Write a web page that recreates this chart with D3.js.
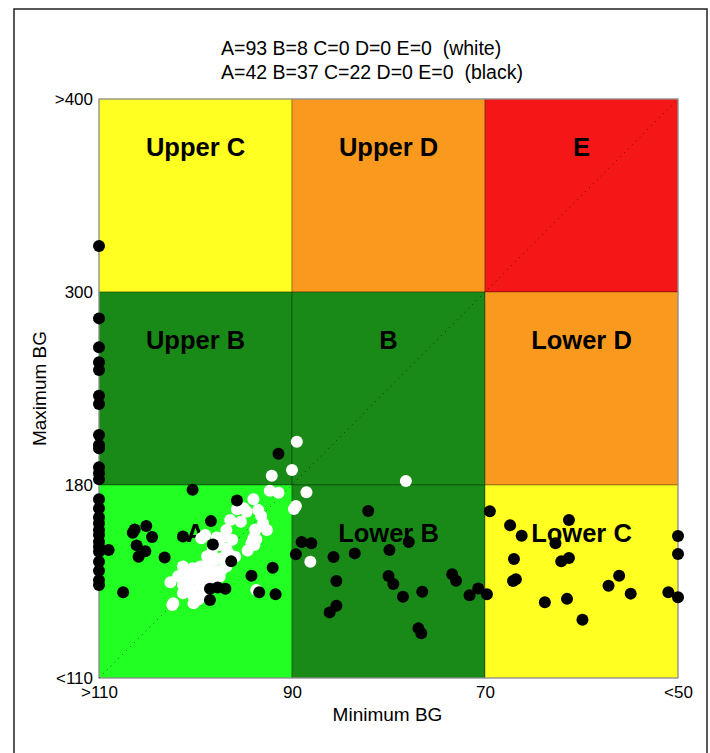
<!DOCTYPE html>
<html>
<head>
<meta charset="utf-8">
<script src="https://cdn.jsdelivr.net/npm/d3@7"></script>
<style>
  html, body { margin: 0; padding: 0; background: #fff; }
  svg { display: block; font-family: "Liberation Sans", Arial, Helvetica, sans-serif; }
</style>
</head>
<body>
<svg id="chart" width="710" height="753"></svg>
<script>
// ---- data ----
const titleLines = ["A=93 B=8 C=0 D=0 E=0  (white)", "A=42 B=37 C=22 D=0 E=0  (black)"];
const xTickValues = [110, 90, 70, 50];
const xTickLabels = [">110", "90", "70", "<50"];
const yTickValues = [110, 180, 300, 400];
const yTickLabels = ["<110", "180", "300", ">400"];
const xAxisTitle = "Minimum BG";
const yAxisTitle = "Maximum BG";

const zoneNames = ["Upper C", "Upper D", "E", "Upper B", "B", "Lower D", "A", "Lower B", "Lower C"];
const zoneColorKeys = ["C", "D", "E", "B", "B", "D", "A", "B", "C"];
const zoneCols = [0, 1, 2, 0, 1, 2, 0, 1, 2];
const zoneRows = [2, 2, 2, 1, 1, 1, 0, 0, 0];

// [minimum BG, maximum BG]
const whitePoints = [
  [89.5, 206.9], [90.0, 189.3], [92.1, 185.8], [78.2, 182.5], [92.3, 177.9], [91.4, 177.2],
  [88.5, 177.4], [89.6, 172.4], [89.8, 171.3], [94.0, 174.8], [95.7, 171.2], [95.0, 171.6],
  [94.7, 170.3], [93.2, 168.8], [95.3, 166.7], [96.4, 167.3], [93.8, 163.9], [92.6, 163.7],
  [94.0, 160.7], [94.6, 156.2], [94.2, 158.9], [96.8, 163.7], [97.0, 161.3], [97.8, 161.0],
  [99.0, 161.9], [99.4, 160.7], [97.5, 158.2], [96.8, 157.0], [98.3, 155.2], [95.9, 154.0],
  [97.3, 153.4], [98.0, 152.8], [96.8, 150.4], [97.3, 149.2], [97.8, 148.6], [98.7, 152.2],
  [99.5, 150.4], [100.3, 149.8], [101.3, 150.4], [98.5, 149.2], [99.2, 148.0], [100.1, 146.7],
  [100.9, 146.2], [101.3, 143.7], [102.6, 144.7], [100.2, 143.1], [99.4, 143.1], [98.3, 145.5],
  [97.5, 146.7], [101.3, 140.7], [100.3, 140.1], [99.2, 140.7], [102.3, 137.1], [100.2, 137.1],
  [93.7, 141.9], [88.1, 152.2], [93.0, 166.1], [93.7, 160.3], [93.9, 158.2], [102.4, 136.5],
  [93.8, 163.7], [98.8, 154.2], [98.2, 157.2], [96.6, 155.3], [98.8, 146.0], [98.1, 143.7],
  [99.8, 145.1], [100.8, 148.0], [101.8, 146.9], [100.7, 141.5], [99.7, 138.5], [96.2, 160.1],
  [93.5, 170.9]
];
const blackPoints = [
  [110, 323.8], [110, 283.6], [110, 265.6], [110, 256.3], [110, 251.5], [110, 235.5],
  [110, 230.4], [110, 211.1], [110, 204.9], [110, 202.8], [110, 191.0], [110, 187.3],
  [110, 183.5], [110, 174.8], [110, 171.6], [110, 168.3], [110, 166.1], [110, 163.7],
  [110, 161.9], [110, 159.4], [110, 157.6], [110, 155.8], [110, 152.2], [110, 148.9],
  [110, 145.5], [110, 143.7],
  [91.4, 199.5], [100.3, 178.3], [95.7, 174.4], [98.4, 166.9], [106.3, 163.9], [106.5, 162.7],
  [105.1, 165.1], [104.5, 161.1], [101.3, 161.3], [109.0, 156.4], [106.1, 158.1], [105.2, 156.0],
  [105.9, 154.0], [103.2, 153.7], [98.2, 158.4], [96.3, 152.3], [92.0, 150.0], [94.2, 147.1],
  [107.5, 141.1], [98.5, 142.4], [97.7, 142.8], [96.9, 142.4], [98.5, 138.3], [93.4, 141.1],
  [91.7, 140.4],
  [89.6, 154.9], [82.1, 170.6], [89.0, 159.3], [88.0, 158.9], [85.7, 153.9], [83.5, 155.2],
  [79.9, 156.4], [77.9, 159.3], [85.4, 145.2], [80.0, 147.0], [79.5, 144.1], [78.5, 139.5],
  [76.5, 141.3], [73.4, 147.6], [73.0, 145.3], [70.7, 142.5], [71.6, 140.0], [85.4, 136.2],
  [86.1, 133.8], [76.9, 128.0], [76.6, 126.2],
  [69.8, 140.4], [69.5, 170.5], [67.4, 165.4], [66.2, 161.6], [61.3, 167.3], [62.7, 158.9],
  [67.0, 153.2], [62.1, 152.3], [61.3, 153.5], [67.1, 145.2], [66.8, 145.8], [63.8, 137.5],
  [61.5, 138.7], [59.9, 131.1], [57.2, 143.5], [56.1, 147.1], [54.9, 140.6], [51.0, 141.1],
  [50, 139.3], [50, 161.5], [50, 155.0]
];

// ---- styles ----
const zoneColors = { A: "#22ff22", B: "#198a17", C: "#ffff22", D: "#f99a1e", E: "#f51717" };

// ---- layout ----
const svg = d3.select("#chart");
const pLeft = 99, pRight = 678, pTop = 99, pBottom = 678;

const x = d3.scaleLinear().domain([110, 50]).range([pLeft, pRight]).clamp(true);
const y = d3.scaleLinear().domain(yTickValues).range([pBottom, pBottom - 193, pBottom - 386, pTop]).clamp(true);

svg.append("rect").attr("x", 14).attr("y", 9).attr("width", 693).attr("height", 780)
  .attr("fill", "none").attr("stroke", "#222").attr("stroke-width", 1.5);

const zones = zoneNames.map((name, i) => ({
  name,
  color: zoneColors[zoneColorKeys[i]],
  x0: xTickValues[zoneCols[i]], x1: xTickValues[zoneCols[i] + 1],
  y0: yTickValues[zoneRows[i]], y1: yTickValues[zoneRows[i] + 1]
}));

const g = svg.append("g");
g.selectAll("rect.zone").data(zones).join("rect")
  .attr("class", "zone")
  .attr("x", d => x(d.x0))
  .attr("y", d => y(d.y1))
  .attr("width", d => x(d.x1) - x(d.x0))
  .attr("height", d => y(d.y0) - y(d.y1))
  .attr("fill", d => d.color)
  .attr("stroke", "rgba(0,0,0,0.3)")
  .attr("stroke-width", 1);

g.selectAll("text.zone").data(zones).join("text")
  .attr("class", "zone")
  .attr("x", d => (x(d.x0) + x(d.x1)) / 2)
  .attr("y", d => y(d.y1) + (y(d.y0) - y(d.y1)) / 4 + 9)
  .attr("text-anchor", "middle")
  .attr("font-size", 25.5)
  .attr("font-weight", "bold")
  .attr("fill", "#000")
  .text(d => d.name);

svg.append("rect").attr("x", pLeft).attr("y", pTop).attr("width", pRight - pLeft).attr("height", pBottom - pTop)
  .attr("fill", "none").attr("stroke", "#999").attr("stroke-width", 1.2);

svg.append("line")
  .attr("x1", x(110)).attr("y1", y(110)).attr("x2", x(50)).attr("y2", y(400))
  .attr("stroke", "#000").attr("stroke-opacity", 0.6).attr("stroke-width", 1)
  .attr("stroke-dasharray", "1,4.5");

svg.append("g").selectAll("circle").data(whitePoints).join("circle")
  .attr("cx", d => x(d[0])).attr("cy", d => y(d[1])).attr("r", 6)
  .attr("fill", "#fff");
svg.append("g").selectAll("circle").data(blackPoints).join("circle")
  .attr("cx", d => x(d[0])).attr("cy", d => y(d[1])).attr("r", 6)
  .attr("fill", "#000");

const xAxis = d3.axisBottom(x).tickValues(xTickValues).tickFormat((d, i) => xTickLabels[i]).tickSize(0).tickPadding(8);
const xg = svg.append("g").attr("transform", `translate(0,${pBottom})`).call(xAxis);
xg.select(".domain").remove();
xg.selectAll("text").attr("font-size", 17).attr("fill", "#000");
xg.attr("font-family", null);

const yAxis = d3.axisLeft(y).tickValues(yTickValues).tickFormat((d, i) => yTickLabels[i]).tickSize(0).tickPadding(6);
const yg = svg.append("g").attr("transform", `translate(${pLeft},0)`).call(yAxis);
yg.select(".domain").remove();
yg.selectAll("text").attr("font-size", 17).attr("fill", "#000");
yg.attr("font-family", null);

svg.append("text").attr("x", (pLeft + pRight) / 2 - 1).attr("y", 721)
  .attr("text-anchor", "middle").attr("font-size", 19).text(xAxisTitle);
svg.append("text").attr("transform", `translate(46,${(pTop + pBottom) / 2}) rotate(-90)`)
  .attr("text-anchor", "middle").attr("font-size", 19).text(yAxisTitle);

svg.selectAll("text.title").data(titleLines).join("text")
  .attr("class", "title")
  .attr("x", 221).attr("y", (d, i) => 55 + i * 24)
  .attr("font-size", 19.5)
  .style("white-space", "pre")
  .text(d => d);
</script>
</body>
</html>
